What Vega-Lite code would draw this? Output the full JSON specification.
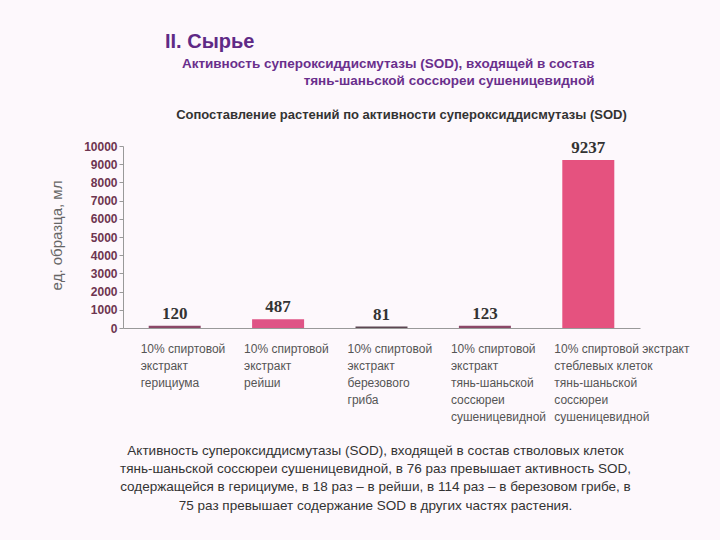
{
  "$schema": "https://vega.github.io/schema/vega-lite/v6.json",
  "width": 517,
  "height": 182,
  "autosize": {"type": "none"},
  "padding": {"left": 123, "top": 146, "right": 80, "bottom": 212},
  "background": "#fdf8fc",
  "title": {
    "text": "II. Сырье",
    "anchor": "start",
    "frame": "group",
    "dx": 42,
    "offset": 4,
    "font": "Liberation Sans",
    "fontSize": 20,
    "fontWeight": "bold",
    "color": "#5f2a86"
  },
  "config": {"view": {"stroke": null}, "font": "Liberation Sans"},
  "data": {
    "values": [
      {"plant": "10% спиртовой|экстракт|герициума", "value": 120},
      {"plant": "10% спиртовой|экстракт|рейши", "value": 487},
      {"plant": "10% спиртовой|экстракт|березового|гриба", "value": 81},
      {"plant": "10% спиртовой|экстракт|тянь-шаньской|соссюреи|сушеницевидной", "value": 123},
      {"plant": "10% спиртовой экстракт|стеблевых клеток|тянь-шаньской|соссюреи|сушеницевидной", "value": 9237}
    ]
  },
  "layer": [
    {
      "mark": {"type": "bar", "width": 52},
      "encoding": {
        "x": {
          "field": "plant",
          "type": "nominal",
          "sort": null,
          "scale": {"paddingInner": 0, "paddingOuter": 0},
          "axis": {
            "orient": "bottom",
            "labelExpr": "split(datum.label, '|')",
            "labelAngle": 0,
            "labelAlign": "left",
            "labelBaseline": "top",
            "labelOffset": -34,
            "labelPadding": 15,
            "labelLineHeight": 17,
            "labelFontSize": 12,
            "labelColor": "#555555",
            "labelOverlap": false,
            "labelLimit": 0,
            "labelFlush": false,
            "ticks": false,
            "domainColor": "#999999",
            "title": [
              "Активность супероксиддисмутазы (SOD), входящей в состав стволовых клеток",
              "тянь-шаньской соссюреи сушеницевидной, в 76 раз превышает активность SOD,",
              "содержащейся в герициуме, в 18 раз – в рейши, в 114 раз – в березовом грибе, в",
              "75 раз превышает содержание SOD в других частях растения."
            ],
            "titleFontSize": 13.5,
            "titleFontWeight": "normal",
            "titleColor": "#333333",
            "titleX": 252,
            "titleY": 115,
            "titleAlign": "center",
            "titleBaseline": "top",
            "titleLineHeight": 18.4
          }
        },
        "y": {
          "field": "value",
          "type": "quantitative",
          "scale": {"domain": [0, 10000]},
          "axis": {
            "values": [0, 1000, 2000, 3000, 4000, 5000, 6000, 7000, 8000, 9000, 10000],
            "format": "d",
            "grid": false,
            "tickSize": 4,
            "tickColor": "#999999",
            "domainColor": "#999999",
            "labelPadding": 2,
            "labelFontSize": 12,
            "labelFontWeight": "bold",
            "labelColor": "#6e3550",
            "title": "ед. образца, мл",
            "titleFontSize": 15,
            "titleFontWeight": "normal",
            "titleColor": "#666666",
            "titleX": -67,
            "titleY": 89,
            "titleAngle": -90,
            "titleAlign": "center",
            "titleBaseline": "middle"
          }
        },
        "color": {
          "field": "plant",
          "type": "nominal",
          "sort": null,
          "scale": {"range": ["#8c4868", "#df5486", "#5d4652", "#8c4868", "#e5527f"]},
          "legend": null
        }
      }
    },
    {
      "mark": {
        "type": "text",
        "baseline": "bottom",
        "dy": -3,
        "font": "Liberation Serif",
        "fontSize": 17,
        "fontWeight": "bold",
        "color": "#333333"
      },
      "encoding": {
        "x": {
          "field": "plant",
          "type": "nominal",
          "sort": null,
          "axis": {
            "orient": "top",
            "labels": false,
            "ticks": false,
            "domain": false,
            "title": "Сопоставление растений по активности супероксиддисмутазы (SOD)",
            "titleFontSize": 13,
            "titleFontWeight": "bold",
            "titleColor": "#333333",
            "titleX": 278,
            "titleY": -32,
            "titleAlign": "center",
            "titleBaseline": "middle"
          }
        },
        "y": {
          "field": "value",
          "type": "quantitative",
          "axis": {
            "orient": "right",
            "labels": false,
            "ticks": false,
            "domain": false,
            "grid": false,
            "title": [
              "Активность супероксиддисмутазы (SOD), входящей в состав",
              "тянь-шаньской соссюреи сушеницевидной"
            ],
            "titleAngle": 0,
            "titleAlign": "right",
            "titleBaseline": "top",
            "titleX": -46,
            "titleY": -90,
            "titleLineHeight": 17,
            "titleFontSize": 13.5,
            "titleFontWeight": "bold",
            "titleColor": "#6a2f8c"
          }
        },
        "text": {"field": "value", "type": "quantitative"}
      }
    }
  ],
  "resolve": {"axis": {"x": "independent", "y": "independent"}}
}
